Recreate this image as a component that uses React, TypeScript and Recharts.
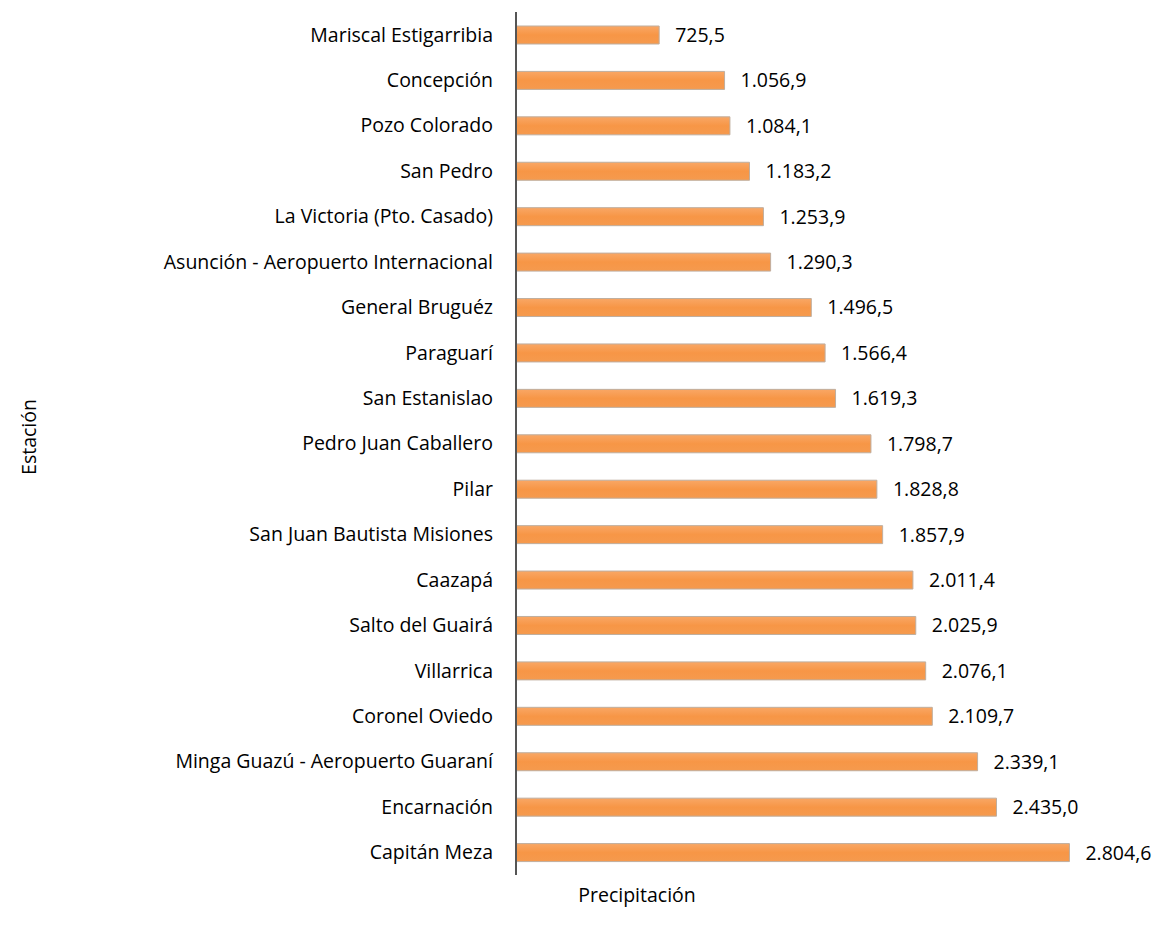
import { Bar, BarChart, LabelList, XAxis, YAxis } from "recharts";

const stations = [
  "Mariscal Estigarribia",
  "Concepción",
  "Pozo Colorado",
  "San Pedro",
  "La Victoria (Pto. Casado)",
  "Asunción - Aeropuerto Internacional",
  "General Bruguéz",
  "Paraguarí ",
  "San Estanislao",
  "Pedro Juan Caballero",
  "Pilar",
  "San Juan Bautista Misiones",
  "Caazapá",
  "Salto del Guairá",
  "Villarrica",
  "Coronel Oviedo",
  "Minga Guazú - Aeropuerto Guaraní",
  "Encarnación",
  "Capitán Meza",
];

const precipitation = [
  725.5, 1056.9, 1084.1, 1183.2, 1253.9, 1290.3, 1496.5, 1566.4, 1619.3, 1798.7,
  1828.8, 1857.9, 2011.4, 2025.9, 2076.1, 2109.7, 2339.1, 2435.0, 2804.6,
];

const data = stations.map((name, i) => ({ name, value: precipitation[i] }));

// 1234.5 -> "1.234,5"
function fmt(v: number) {
  const [int, dec] = v.toFixed(1).split(".");
  return int.replace(/\B(?=(\d{3})+(?!\d))/g, ".") + "," + dec;
}

const font = "'Open Sans', sans-serif";
const fs = 19.5;

export default function App() {
  return (
    <div style={{ position: "relative", width: 1152, height: 920, fontFamily: font }}>
      <BarChart
        width={1152}
        height={920}
        data={data}
        layout="vertical"
        margin={{ top: 4, right: 52, bottom: 53, left: 0 }}
        barCategoryGap={27}
      >
        <defs>
          <linearGradient id="barFill" x1="0" y1="0" x2="0" y2="1">
            <stop offset="0%" stopColor="#f9a765" />
            <stop offset="50%" stopColor="#f79646" />
            <stop offset="100%" stopColor="#f59a4e" />
          </linearGradient>
        </defs>
        <XAxis type="number" domain={[0, 3000]} hide />
        <YAxis
          type="category"
          dataKey="name"
          width={508}
          axisLine={{ stroke: "#555", strokeWidth: 2 }}
          tickLine={false}
          tickMargin={17}
          tick={{ fill: "#000", fontSize: fs, fontFamily: font }}
          interval={0}
        />
        <Bar
          dataKey="value"
          fill="url(#barFill)"
          stroke="#bfae9f"
          strokeWidth={1}
          barSize={18}
          isAnimationActive={false}
        >
          <LabelList
            dataKey="value"
            position="right"
            offset={16}
            formatter={(v: any) => fmt(Number(v))}
            style={{ fill: "#000", fontSize: fs, fontFamily: font }}
          />
        </Bar>
      </BarChart>
      <div
        style={{
          position: "absolute",
          left: 629,
          top: 873,
          transform: "translateX(-50%)",
          fontSize: fs,
          color: "#000",
        }}
      >
        Precipitación
      </div>
      <div
        style={{
          position: "absolute",
          left: 20,
          top: 429,
          transform: "translate(-50%, -50%) rotate(-90deg)",
          fontSize: fs,
          color: "#000",
          whiteSpace: "nowrap",
        }}
      >
        Estación
      </div>
    </div>
  );
}
